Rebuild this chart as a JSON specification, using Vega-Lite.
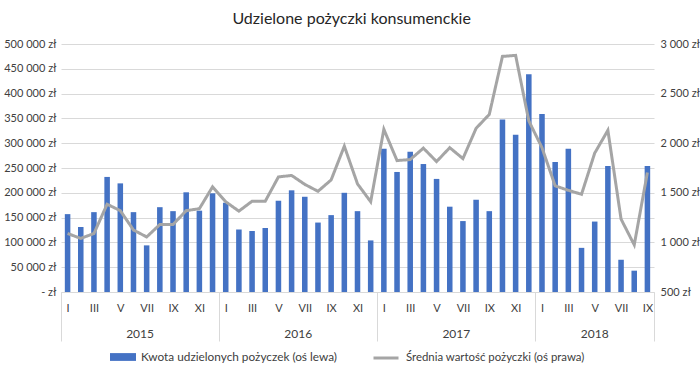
{
  "$schema": "https://vega.github.io/schema/vega-lite/v6.json",
  "width": 593,
  "height": 248,
  "padding": {"left": 3, "top": 11, "right": 5, "bottom": 0},
  "background": "white",
  "title": {"text": "Udzielone pożyczki konsumenckie", "fontSize": 16, "fontWeight": "normal", "font": "Lato", "color": "#262626", "frame": "bounds", "anchor": "middle", "offset": 11},
  "data": {"values": [
    {"m": "2015-01", "kwota": 157000, "srednia": 1090},
    {"m": "2015-02", "kwota": 131000, "srednia": 1040},
    {"m": "2015-03", "kwota": 161000, "srednia": 1090},
    {"m": "2015-04", "kwota": 232000, "srednia": 1385},
    {"m": "2015-05", "kwota": 219000, "srednia": 1320},
    {"m": "2015-06", "kwota": 161000, "srednia": 1125},
    {"m": "2015-07", "kwota": 94000, "srednia": 1055},
    {"m": "2015-08", "kwota": 171000, "srednia": 1180},
    {"m": "2015-09", "kwota": 163000, "srednia": 1180},
    {"m": "2015-10", "kwota": 201000, "srednia": 1320},
    {"m": "2015-11", "kwota": 164000, "srednia": 1340},
    {"m": "2015-12", "kwota": 199000, "srednia": 1560},
    {"m": "2016-01", "kwota": 180000, "srednia": 1410},
    {"m": "2016-02", "kwota": 126000, "srednia": 1315},
    {"m": "2016-03", "kwota": 123000, "srednia": 1415},
    {"m": "2016-04", "kwota": 129000, "srednia": 1415},
    {"m": "2016-05", "kwota": 184000, "srednia": 1660},
    {"m": "2016-06", "kwota": 205000, "srednia": 1675},
    {"m": "2016-07", "kwota": 192000, "srednia": 1585},
    {"m": "2016-08", "kwota": 140000, "srednia": 1515},
    {"m": "2016-09", "kwota": 155000, "srednia": 1630},
    {"m": "2016-10", "kwota": 200000, "srednia": 1970},
    {"m": "2016-11", "kwota": 163000, "srednia": 1590},
    {"m": "2016-12", "kwota": 104000, "srednia": 1410},
    {"m": "2017-01", "kwota": 289000, "srednia": 2140},
    {"m": "2017-02", "kwota": 242000, "srednia": 1825},
    {"m": "2017-03", "kwota": 283000, "srednia": 1835},
    {"m": "2017-04", "kwota": 258000, "srednia": 1950},
    {"m": "2017-05", "kwota": 228000, "srednia": 1815},
    {"m": "2017-06", "kwota": 172000, "srednia": 1955},
    {"m": "2017-07", "kwota": 143000, "srednia": 1845},
    {"m": "2017-08", "kwota": 186000, "srednia": 2150},
    {"m": "2017-09", "kwota": 163000, "srednia": 2290},
    {"m": "2017-10", "kwota": 348000, "srednia": 2875},
    {"m": "2017-11", "kwota": 317000, "srednia": 2885},
    {"m": "2017-12", "kwota": 439000, "srednia": 2225},
    {"m": "2018-01", "kwota": 359000, "srednia": 1955},
    {"m": "2018-02", "kwota": 262000, "srednia": 1570},
    {"m": "2018-03", "kwota": 289000, "srednia": 1525},
    {"m": "2018-04", "kwota": 89000, "srednia": 1485},
    {"m": "2018-05", "kwota": 142000, "srednia": 1900},
    {"m": "2018-06", "kwota": 254000, "srednia": 2130},
    {"m": "2018-07", "kwota": 65000, "srednia": 1235},
    {"m": "2018-08", "kwota": 43000, "srednia": 975},
    {"m": "2018-09", "kwota": 254000, "srednia": 1705}
  ]},
  "layer": [
    {
      "mark": {"type": "bar", "width": {"band": 0.42}},
      "encoding": {
        "x": {"field": "m", "type": "ordinal", "sort": null,
          "scale": {"paddingInner": 0, "paddingOuter": 0},
          "axis": {"title": null, "labelAngle": 0, "domainColor": "#d9d9d9", "tickBand": "extent", "tickSize": 49, "tickColor": "#d9d9d9",
            "tickOpacity": {"condition": {"test": "datum.value == null || substring(datum.value + '', 5) == '12' || datum.value == '2018-09'", "value": 1}, "value": 0},
            "labelPadding": -39, "labelFont": "Lato", "labelFontSize": 11, "labelColor": "#404040", "labelOverlap": false,
            "labelExpr": "datum.value == null ? '' : substring(datum.value + '', 5) == '01' ? 'I' : substring(datum.value + '', 5) == '03' ? 'III' : substring(datum.value + '', 5) == '05' ? 'V' : substring(datum.value + '', 5) == '07' ? 'VII' : substring(datum.value + '', 5) == '09' ? 'IX' : substring(datum.value + '', 5) == '11' ? 'XI' : ''"}},
        "y": {"field": "kwota", "type": "quantitative", "scale": {"domain": [0, 500000]},
          "axis": {"title": null, "values": [0, 50000, 100000, 150000, 200000, 250000, 300000, 350000, 400000, 450000, 500000],
            "domain": false, "ticks": false, "gridColor": "#d9d9d9", "labelPadding": 5, "labelFont": "Lato", "labelFontSize": 11, "labelColor": "#404040",
            "labelExpr": "datum.value == 0 ? '- zł' : replace(format(datum.value, ','), ',', ' ') + ' zł'"}},
        "color": {"datum": "Kwota udzielonych pożyczek (oś lewa)", "type": "nominal", "scale": {"range": ["#4472C4"]},
          "legend": {"title": null, "orient": "none", "legendX": 49, "legendY": 300, "padding": 0, "labelLimit": 0, "labelOffset": 5, "symbolType": "M-1,-0.3H1V0.3H-1Z", "symbolSize": 676, "labelFont": "Lato", "labelFontSize": 11.8, "labelColor": "#404040", "symbolStrokeWidth": 0}}
      }
    },
    {
      "mark": {"type": "line", "color": "#A5A5A5", "strokeWidth": 3},
      "encoding": {
        "x": {"field": "m", "type": "ordinal", "sort": null,
          "axis": {"title": null, "orient": "bottom", "labelAngle": 0, "domain": false, "ticks": false, "labelPadding": 36, "labelFont": "Lato", "labelFontSize": 12, "labelColor": "#404040", "labelOverlap": false,
            "labelOffset": {"condition": {"test": "datum.value == '2018-05'", "value": 0}, "value": -6.6},
            "labelExpr": "datum.value == '2015-07' ? '2015' : datum.value == '2016-07' ? '2016' : datum.value == '2017-07' ? '2017' : datum.value == '2018-05' ? '2018' : ''"}},
        "y": {"field": "srednia", "type": "quantitative", "scale": {"domain": [500, 3000]},
          "axis": {"title": null, "orient": "right", "values": [500, 1000, 1500, 2000, 2500, 3000], "grid": false, "domain": false, "ticks": false, "labelPadding": 6, "labelFont": "Lato", "labelFontSize": 11, "labelColor": "#404040",
            "labelExpr": "replace(format(datum.value, ','), ',', ' ') + ' zł'"}},
        "strokeDash": {"datum": "Średnia wartość pożyczki (oś prawa)", "type": "nominal", "scale": {"range": [[1, 0]]},
          "legend": {"title": null, "orient": "none", "legendX": 311, "legendY": 300, "padding": 0, "labelLimit": 0, "labelOffset": 6, "symbolType": "stroke", "symbolSize": 625, "symbolStrokeColor": "#A5A5A5", "symbolStrokeWidth": 3, "labelFont": "Lato", "labelFontSize": 11.4, "labelColor": "#404040"}}
      }
    }
  ],
  "resolve": {"scale": {"y": "independent"}, "axis": {"x": "independent"}},
  "config": {
    "view": {"stroke": null}
  }
}
